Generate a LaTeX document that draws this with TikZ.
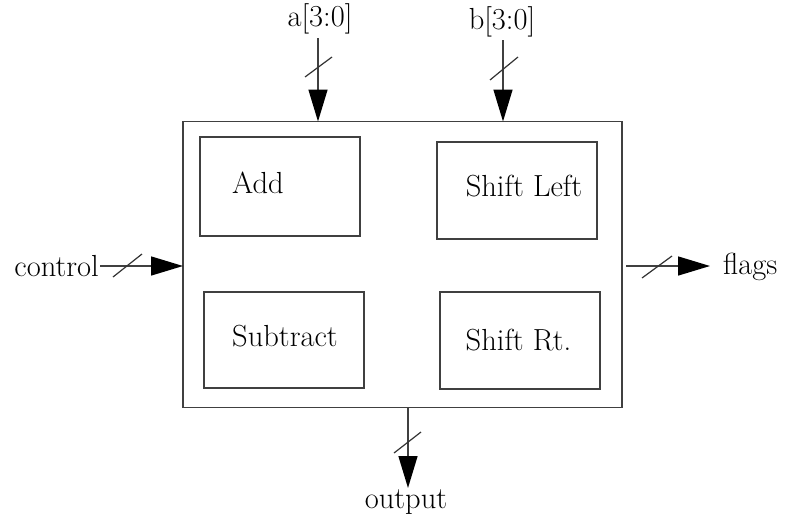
\documentclass[tikz,border=0pt]{standalone}
\usetikzlibrary{arrows.meta}
\begin{document}
\begin{tikzpicture}[x=1pt,y=-1pt,
  every node/.style={font=\fontsize{30.5}{33}\selectfont},
  boxline/.style={draw=black!75, line width=1.7pt},
  unit/.style={boxline, minimum width=160pt, minimum height=97pt, inner sep=0pt, outer sep=0pt},
  lbl/.style={inner sep=1pt},
  arr/.style={draw=black!75, line width=1.5pt, -{Triangle[length=32pt,width=19pt,fill=black,color=black]}},
  busmark/.style={draw=black!80, line width=1.2pt}
]
\useasboundingbox (0,0) rectangle (785,520);

% outer box
\node[boxline, minimum width=439pt, minimum height=286pt, inner sep=0pt, outer sep=0pt] (alu) at (402.5,264.5) {};

% inner units
\node[unit, minimum height=99pt, label={[xshift=-22pt,yshift=4pt]center:Add}] (add) at (280,186.5) {};
\node[unit, label={[xshift=7pt,yshift=4pt]center:Shift Left}] (shl) at (517,190.5) {};
\node[unit, minimum height=96pt, label={[xshift=1pt,yshift=4pt]center:Subtract}] (sub) at (284,340) {};
\node[unit, label={[xshift=-1.5pt,yshift=0pt]center:Shift Rt.}] (shr) at (520,340.5) {};

% labels
\node[lbl] (a) at (320,19) {a[3:0]};
\node[lbl] (b) at (502,22) {b[3:0]};
\node[lbl, anchor=east] (ctl) at (100,266) {control};
\node[lbl, anchor=west] (flg) at (722,267) {flags};
\node[lbl] (out) at (406,502) {output};

% connector points
\coordinate (atop) at (318,38);
\coordinate (btop) at (503,40);
\coordinate (otip) at (408,488);
\coordinate (ftip) at (710,266);

% connectors
\draw[arr] (atop) -- (atop |- alu.north);
\draw[arr] (btop) -- (btop |- alu.north);
\draw[arr] (ctl.east) -- (ctl.east -| alu.west);
\draw[arr] ([xshift=4pt]alu.east |- ftip) -- (ftip);
\draw[arr] (otip |- alu.south) -- (otip);

% bus slashes
\draw[busmark] (305,77) -- (332,57);
\draw[busmark] (490,80) -- (518,57);
\draw[busmark] (113,277) -- (142,254);
\draw[busmark] (642,278) -- (672,256);
\draw[busmark] (394,453) -- (421,432);
\end{tikzpicture}
\end{document}
